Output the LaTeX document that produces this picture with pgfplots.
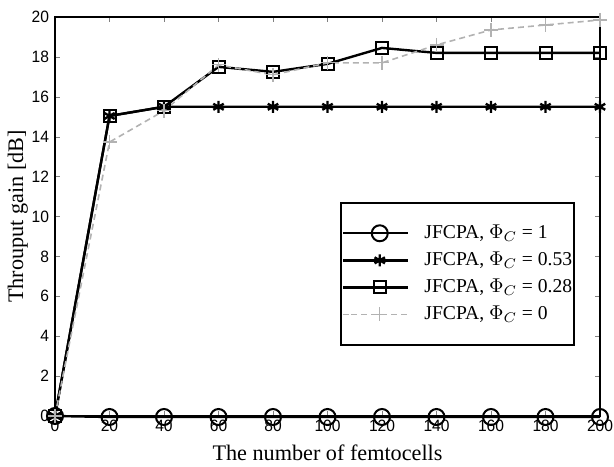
\documentclass[border=0pt]{standalone}
\usepackage{pgfplots}
\pgfplotsset{compat=1.18}
\usepackage{fontspec}
\setmainfont{Liberation Serif}
\newfontfamily\ticksf[FakeStretch=0.95]{Liberation Sans}
\begin{document}
\begin{tikzpicture}
\begin{axis}[
  width=272.5pt, height=199.5pt, scale only axis,
  xmin=0, xmax=200, ymin=0, ymax=20,
  xtick={0,20,...,200}, ytick={0,2,...,20},
  tick align=inside, major tick length=2.5pt,
  tick label style={font=\ticksf\fontsize{8.2}{9}\selectfont},
  /pgf/number format/assume math mode=true,
  xticklabel style={yshift=1.5pt},
  yticklabel style={xshift=0.5pt},
  xlabel={The number of femtocells},
  ylabel={Throuput gain [dB]},
  label style={font=\fontsize{11.1}{12}\selectfont},
  xlabel style={at={(axis description cs:0.5,-0.093)}, anchor=center},
  ylabel style={at={(axis description cs:-0.068,0.5)}, anchor=center},
  clip=false,
  axis line style={line width=0.8pt},
  legend style={at={(rel axis cs:0.954,0.536)}, anchor=north east,
    font=\fontsize{9.8}{11}\selectfont, line width=0.8pt,
    nodes={inner xsep=0.5pt},
    row sep=1.2pt, column sep=7pt, inner xsep=0.5pt, inner ysep=9pt, cells={anchor=west}},
  legend cell align=left,
  legend image code/.code={\path (0cm,0cm) -- (0.14cm,0cm); \draw[#1] (0.14cm,0cm) -- (1.14cm,0cm); \draw[#1,solid] plot coordinates {(0.64cm,0cm)};},
]
\addplot[black, line width=1.2pt, mark=o, mark size=4pt, mark options={line width=1pt}]
 coordinates {(0,0)(20,-0.05)(40,-0.05)(60,-0.05)(80,-0.05)(100,-0.05)(120,-0.05)(140,-0.05)(160,-0.05)(180,-0.05)(200,-0.05)};
\addlegendentry{JFCPA, $\Phi_C$ = 1}
\addplot[black, line width=1.2pt, mark=asterisk, mark size=3pt, mark options={line width=1.2pt}]
 coordinates {(0,0)(20,15.04)(40,15.5)(60,15.5)(80,15.5)(100,15.5)(120,15.5)(140,15.5)(160,15.5)(180,15.5)(200,15.5)};
\addlegendentry{JFCPA, $\Phi_C$ = 0.53}
\addplot[black, line width=1.2pt, mark=square, mark size=3pt, mark options={line width=1pt}]
 coordinates {(0,0)(20,15.04)(40,15.5)(60,17.5)(80,17.25)(100,17.65)(120,18.45)(140,18.2)(160,18.2)(180,18.2)(200,18.2)};
\addlegendentry{JFCPA, $\Phi_C$ = 0.28}
\addplot[gray!60, line width=0.8pt, densely dashed, mark=+, mark size=3.5pt, mark options={solid, line width=0.6pt}]
 coordinates {(0,0)(20,13.73)(40,15.3)(60,17.6)(80,17.1)(100,17.7)(120,17.7)(140,18.6)(160,19.35)(180,19.6)(200,19.85)};
\addlegendentry{JFCPA, $\Phi_C$ = 0}
\end{axis}
\pgfresetboundingbox
\path[use as bounding box] ([shift={(-27.5pt,-25pt)}]current axis.south west) rectangle ([shift={(7pt,8.5pt)}]current axis.north east);
\end{tikzpicture}
\end{document}
